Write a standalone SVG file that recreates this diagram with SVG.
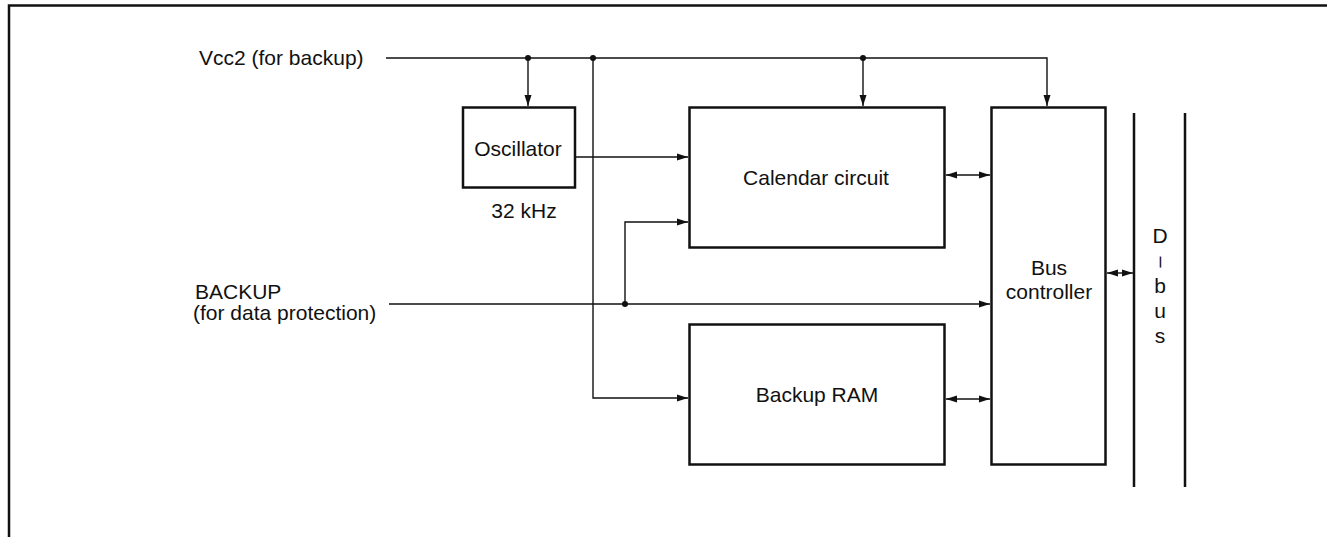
<svg xmlns="http://www.w3.org/2000/svg" width="1327" height="537" viewBox="0 0 1327 537">
<style>
text{font-family:"Liberation Sans",Arial,sans-serif;font-size:21px;fill:#111}
.box{fill:#fff;stroke:#111;stroke-width:2.5}
.wire{fill:none;stroke:#111;stroke-width:1.4}
.frame{fill:none;stroke:#111;stroke-width:2.5}
.dot{fill:#111}
</style>
<defs>
<marker id="ah" markerUnits="userSpaceOnUse" markerWidth="12" markerHeight="8" refX="11" refY="4" orient="auto-start-reverse">
<path d="M0,0.5 L11,4 L0,7.5 z" fill="#111"/>
</marker>
</defs>
<rect width="1327" height="537" fill="#fff"/>
<path class="frame" d="M9,537 V5.5 H1327"/>

<g id="connectors">
<path class="wire" d="M386,58 H1047 V106" marker-end="url(#ah)"/>
<path class="wire" d="M528,58 V106" marker-end="url(#ah)"/>
<path class="wire" d="M593,58 V398 H688" marker-end="url(#ah)"/>
<path class="wire" d="M863,58 V106" marker-end="url(#ah)"/>
<path class="wire" d="M576,157 H688" marker-end="url(#ah)"/>
<path class="wire" d="M389,304 H990" marker-end="url(#ah)"/>
<path class="wire" d="M625,304 V222 H688" marker-end="url(#ah)"/>
<path class="wire" d="M946,175 H990" marker-start="url(#ah)" marker-end="url(#ah)"/>
<path class="wire" d="M946,399 H990" marker-start="url(#ah)" marker-end="url(#ah)"/>
<path class="wire" d="M1107,273 H1133" marker-start="url(#ah)" marker-end="url(#ah)"/>
<circle class="dot" cx="528" cy="58" r="3"/>
<circle class="dot" cx="593" cy="58" r="3"/>
<circle class="dot" cx="863" cy="58" r="3"/>
<circle class="dot" cx="625" cy="304" r="3"/>
</g>

<g id="label-vcc2">
<text x="199" y="65">Vcc2 (for backup)</text>
</g>
<g id="label-backup">
<text x="195" y="299">BACKUP</text>
<text x="193" y="320">(for data protection)</text>
</g>
<g id="oscillator">
<rect class="box" x="463" y="107.5" width="112" height="80"/>
<text x="518" y="156" text-anchor="middle">Oscillator</text>
<text x="524" y="218" text-anchor="middle">32 kHz</text>
</g>
<g id="calendar">
<rect class="box" x="689.5" y="107.5" width="255" height="140"/>
<text x="816" y="185" text-anchor="middle">Calendar circuit</text>
</g>
<g id="backup-ram">
<rect class="box" x="689.5" y="324.5" width="255" height="140"/>
<text x="817" y="402" text-anchor="middle">Backup RAM</text>
</g>
<g id="bus-controller">
<rect class="box" x="991.5" y="107.5" width="114" height="357"/>
<text x="1049" y="275" text-anchor="middle">Bus</text>
<text x="1049" y="299" text-anchor="middle">controller</text>
</g>
<g id="d-bus">
<line class="frame" x1="1134" y1="113" x2="1134" y2="487"/>
<line class="frame" x1="1185" y1="113" x2="1185" y2="487"/>
<text x="1160" y="243" text-anchor="middle">D</text>
<text x="0" y="0" text-anchor="middle" style="font-size:20px" transform="translate(1154.5,262) rotate(90)">–</text>
<text x="1160" y="293" text-anchor="middle">b</text>
<text x="1160" y="318" text-anchor="middle">u</text>
<text x="1160" y="343" text-anchor="middle">s</text>
</g>
</svg>
